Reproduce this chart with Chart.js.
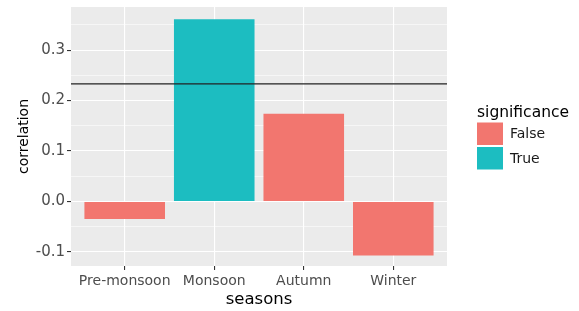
<!DOCTYPE html>
<html>
<head>
<meta charset="utf-8">
<script src="https://cdn.jsdelivr.net/npm/chart.js@4"></script>
<style>
  html, body { margin: 0; padding: 0; background: #ffffff; }
  #wrap { width: 579px; height: 311px; position: relative; }
</style>
</head>
<body>
<div id="wrap"><canvas id="c" width="579" height="311"></canvas></div>
<script>
// ---- data ----
const categories = ["Pre-monsoon", "Monsoon", "Autumn", "Winter"];
const correlation = [-0.035, 0.361, 0.174, -0.107];
const significance = ["False", "True", "False", "False"];
const threshold = 0.233;
const yMajorTicks = [-0.1, 0.0, 0.1, 0.2, 0.3];
const yMinorTicks = [-0.05, 0.05, 0.15, 0.25, 0.35];
const legendLevels = ["False", "True"];

// ---- styles ----
const levelColors = { "False": "#F2766F", "True": "#1CBDC1" };
const panelBg = "#EBEBEB";
const FONT = "'DejaVu Sans', sans-serif";

const panelPlugin = {
  id: 'panel',
  beforeDraw(chart) {
    const { ctx, chartArea: a } = chart;
    ctx.save();
    ctx.fillStyle = panelBg;
    ctx.fillRect(a.left, a.top, a.right - a.left, a.bottom - a.top);
    ctx.restore();
  },
  afterDraw(chart) {
    const ctx = chart.ctx;
    ctx.save();
    ctx.fillStyle = '#000';
    ctx.font = "15.5px " + FONT;
    ctx.textBaseline = 'alphabetic';
    ctx.textAlign = 'left';
    ctx.fillText("significance", 477, 117);
    const boxX = 477, boxW = 26, boxH = 22.5, top0 = 122.5, step = 24.5;
    legendLevels.forEach((lv, i) => {
      const y = top0 + i * step;
      ctx.fillStyle = levelColors[lv];
      ctx.fillRect(boxX, y, boxW, boxH);
      ctx.fillStyle = '#1a1a1a';
      ctx.font = "14px " + FONT;
      ctx.textBaseline = 'middle';
      ctx.fillText(lv, 510, y + boxH / 2 + 1);
    });
    ctx.restore();
  }
};

const allYTicks = yMajorTicks.concat(yMinorTicks).sort((a, b) => a - b);
const isMinor = v => yMinorTicks.some(m => Math.abs(m - v) < 1e-9);

new Chart(document.getElementById('c'), {
  type: 'bar',
  data: {
    datasets: [
      {
        type: 'bar',
        data: categories.map((c, i) => ({ x: i, y: correlation[i] })),
        backgroundColor: significance.map(s => levelColors[s]),
        borderWidth: 0,
        categoryPercentage: 1.0,
        barPercentage: 0.9,
        order: 2
      },
      {
        type: 'line',
        data: [{ x: -0.6, y: threshold }, { x: 3.6, y: threshold }],
        borderColor: '#222222',
        borderWidth: 1.3,
        pointRadius: 0,
        fill: false,
        order: 1
      }
    ]
  },
  options: {
    responsive: false,
    animation: false,
    devicePixelRatio: 1,
    layout: { padding: { left: 0, top: 7, right: 132, bottom: 0 } },
    plugins: { legend: { display: false }, tooltip: { enabled: false } },
    scales: {
      x: {
        type: 'linear',
        min: -0.6,
        max: 3.6,
        offset: false,
        afterBuildTicks: s => { s.ticks = categories.map((c, i) => ({ value: i })); },
        afterFit: s => { s.height = 45; s.paddingLeft = 0; s.paddingRight = 0; },
        grid: { offset: false, color: '#ffffff', lineWidth: 1.1, tickColor: '#333333', tickLength: 4 },
        border: { display: false },
        ticks: {
          autoSkip: false, maxRotation: 0,
          padding: 2.5,
          color: '#4D4D4D',
          font: { family: FONT, size: 14 },
          callback: v => categories[v] !== undefined ? categories[v] : ''
        },
        title: {
          display: true, text: 'seasons', color: '#000',
          font: { family: FONT, size: 16.5 },
          padding: { top: 0, bottom: 1.5 }
        }
      },
      y: {
        type: 'linear',
        min: -0.128,
        max: 0.3855,
        afterBuildTicks: s => { s.ticks = allYTicks.map(v => ({ value: v })); },
        afterFit: s => { s.width = 71; s.paddingTop = 0; s.paddingBottom = 0; },
        grid: {
          color: '#ffffff',
          lineWidth: c => (c.tick && isMinor(c.tick.value)) ? 0.55 : 1.1,
          tickColor: c => (c.tick && isMinor(c.tick.value)) ? 'rgba(0,0,0,0)' : '#333333',
          tickLength: 4
        },
        border: { display: false },
        ticks: {
          autoSkip: false,
          padding: 2,
          color: '#4D4D4D',
          font: { family: FONT, size: 15 },
          callback: v => isMinor(v) ? '' : (Math.abs(v) < 1e-9 ? '0.0' : v.toFixed(1))
        },
        title: {
          display: true, text: 'correlation', color: '#000',
          font: { family: FONT, size: 14 },
          padding: { top: 16, bottom: 0 }
        }
      }
    }
  },
  plugins: [panelPlugin]
});
</script>
</body>
</html>
